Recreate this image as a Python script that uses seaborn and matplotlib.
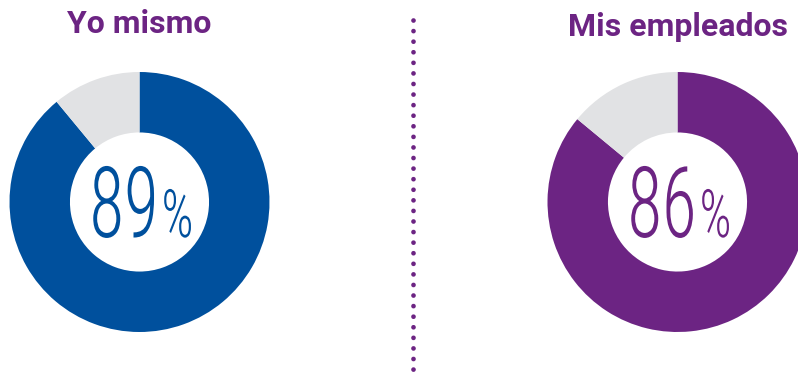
import matplotlib
matplotlib.use("Agg")
import matplotlib.pyplot as plt
import seaborn as sns
from matplotlib.lines import Line2D
from matplotlib.patheffects import AbstractPathEffect
from matplotlib.transforms import Affine2D

# ---- data ----
titles = ["Yo mismo", "Mis empleados"]
values = [89, 86]
main_colors = ["#00509d", "#6c2483"]
rest_color = "#e1e2e4"
title_color = "#6c2483"

sns.set_theme(style="white")

W, H = 798, 376
fig = plt.figure(figsize=(W / 100, H / 100), dpi=100)


class HScale(AbstractPathEffect):
    """Horizontally condense a text around its anchor point."""
    def __init__(self, sx, text):
        super().__init__()
        self.sx = sx
        self.text = text

    def draw_path(self, renderer, gc, tpath, affine, rgbFace=None):
        cx = self.text.get_transform().transform(self.text.get_position())[0]
        aff = affine + Affine2D().translate(-cx, 0).scale(self.sx, 1).translate(cx, 0)
        renderer.draw_path(gc, tpath, aff, rgbFace)


R_PX = 130
centers = [(139.5, 202), (677.5, 202)]
title_y = [33, 36]

for i, (title, val, col) in enumerate(zip(titles, values, main_colors)):
    cx, cy = centers[i]
    ax = fig.add_axes([(cx - R_PX) / W, (H - cy - R_PX) / H, 2 * R_PX / W, 2 * R_PX / H])
    ax.pie([val, 100 - val], colors=[col, rest_color], startangle=90,
           counterclock=False, radius=1,
           wedgeprops=dict(width=0.465, linewidth=0))
    ax.set_xlim(-1, 1)
    ax.set_ylim(-1, 1)
    ax.set_aspect("equal")
    ax.axis("off")

    t1 = ax.text(19 / R_PX, -35 / R_PX, f"{val}", ha="right", va="baseline",
                 fontsize=71, family="Roboto Condensed", fontweight=300, color=col)
    t1.set_path_effects([HScale(0.72, t1)])
    t2 = ax.text(22 / R_PX, -35 / R_PX, "%", ha="left", va="baseline",
                 fontsize=48, family="Roboto Condensed", fontweight=300, color=col)
    t2.set_path_effects([HScale(0.75, t2)])

    fig.text(cx / W, 1 - title_y[i] / H, title, ha="center", va="baseline",
             fontsize=23, family="Roboto", fontweight="bold", color=title_color)

# dotted separator
sep = Line2D([413 / W, 413 / W], [1 - 20 / H, 1 - 372.5 / H],
             transform=fig.transFigure, color=title_color, lw=3.4,
             linestyle=(0, (0.01, 2.23)), dash_capstyle="round", zorder=5)
fig.add_artist(sep)

fig.savefig("out.png", dpi=100)
